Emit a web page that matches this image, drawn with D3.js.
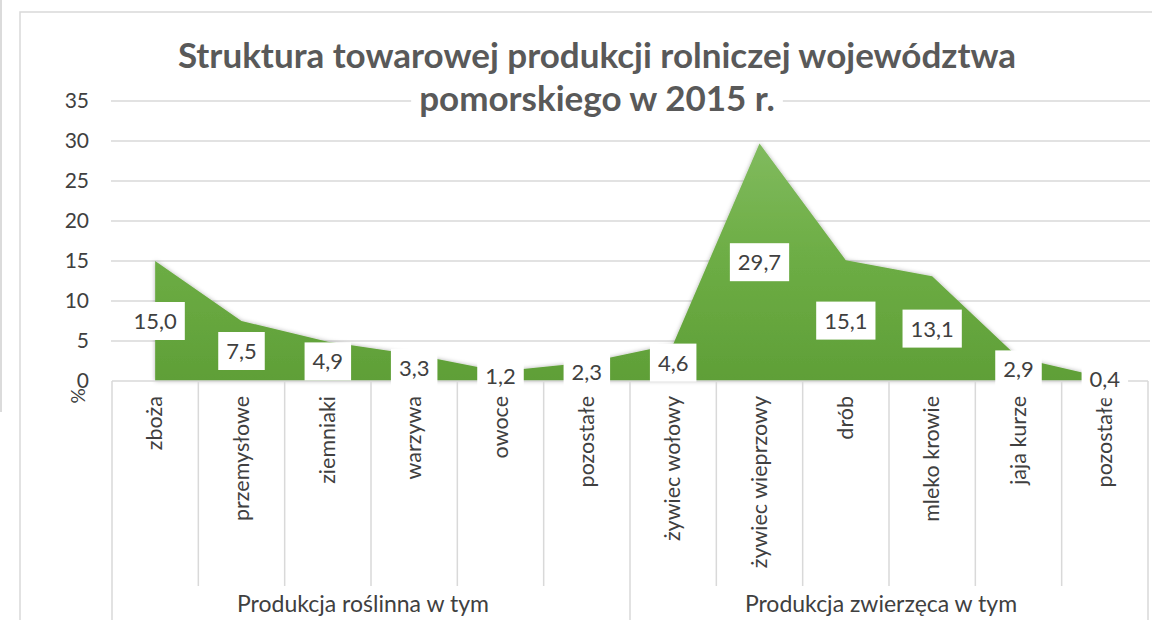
<!DOCTYPE html>
<html>
<head>
<meta charset="utf-8">
<script src="https://cdn.jsdelivr.net/npm/d3@7"></script>
<style>
  body { margin: 0; background: #fff; }
  text { font-family: Lato, "Open Sans", sans-serif; }
</style>
</head>
<body>
<div id="chart"></div>
<script>
// data
const titleLines = ["Struktura towarowej produkcji rolniczej województwa", "pomorskiego w 2015 r."];
const categories = ["zboża", "przemysłowe", "ziemniaki", "warzywa", "owoce", "pozostałe",
  "żywiec wołowy", "żywiec wieprzowy", "drób", "mleko krowie", "jaja kurze", "pozostałe"];
const groups = ["Produkcja roślinna w tym", "Produkcja zwierzęca w tym"];
const groupSizes = [6, 6];
const values = [15.0, 7.5, 4.9, 3.3, 1.2, 2.3, 4.6, 29.7, 15.1, 13.1, 2.9, 0.4];
const yTicks = [0, 5, 10, 15, 20, 25, 30, 35];
const yLabel = "%";

// set the dimensions of the page
const width = 1152, height = 620;
const plot = { left: 112, right: 1148, top: 101, bottom: 381 };

const svg = d3
  .select("#chart")
  .append("svg")
  .attr("width", width)
  .attr("height", height);

function render() {
  var gridColor = "#d9d9d9";
  var textColor = "#404040";

  var x = d3.scaleBand()
    .domain(d3.range(categories.length))
    .range([plot.left, plot.right])
    .padding(0);

  var y = d3.scaleLinear()
    .domain([0, 35])
    .range([plot.bottom, plot.top]);

  var fmt = function (v) { return d3.format(".1f")(v).replace(".", ","); };

  // thin line at the page edge and chart border
  svg.append("line")
    .attr("x1", 1).attr("x2", 1).attr("y1", 0).attr("y2", 412)
    .attr("stroke", "#cfcfcf").attr("stroke-width", 1.5);
  svg.append("rect")
    .attr("x", 20).attr("y", 12)
    .attr("width", 1160).attr("height", 640)
    .attr("fill", "#fff")
    .attr("stroke", gridColor).attr("stroke-width", 1.5);

  // defs: gradient and soft shadow for the area
  var defs = svg.append("defs");
  var grad = defs.append("linearGradient")
    .attr("id", "areaGrad")
    .attr("gradientUnits", "userSpaceOnUse")
    .attr("x1", 0).attr("x2", 0)
    .attr("y1", y(30)).attr("y2", y(0));
  grad.append("stop").attr("offset", "0%").attr("stop-color", "#81bb5f");
  grad.append("stop").attr("offset", "45%").attr("stop-color", "#6eae46");
  grad.append("stop").attr("offset", "100%").attr("stop-color", "#5f9f37");

  var shadow = defs.append("filter")
    .attr("id", "shadow")
    .attr("x", "-5%").attr("y", "-5%")
    .attr("width", "110%").attr("height", "110%");
  shadow.append("feDropShadow")
    .attr("dx", 0).attr("dy", 0)
    .attr("stdDeviation", 2)
    .attr("flood-color", "#000")
    .attr("flood-opacity", 0.3);

  // horizontal gridlines
  svg.append("g")
    .selectAll("line")
    .data(yTicks.filter(function (t) { return t > 0; }))
    .enter()
    .append("line")
    .attr("x1", plot.left - 1)
    .attr("x2", plot.right + 2)
    .attr("y1", function (d) { return y(d); })
    .attr("y2", function (d) { return y(d); })
    .attr("stroke", gridColor)
    .attr("stroke-width", 1.5);

  // title, on a white box so the top gridline stops at it
  var title = svg.append("g")
    .selectAll("g")
    .data(titleLines)
    .enter()
    .append("g");
  title.append("rect").attr("fill", "#fff");
  title.append("text")
    .attr("x", 597)
    .attr("y", function (d, i) { return 68 + i * 43; })
    .attr("text-anchor", "middle")
    .attr("fill", "#595959")
    .style("font-size", "35px")
    .style("font-weight", "bold")
    .text(function (d) { return d; });
  title.each(function () {
    var g = d3.select(this);
    var b = g.select("text").node().getBBox();
    g.select("rect")
      .attr("x", b.x - 8).attr("y", b.y)
      .attr("width", b.width + 16).attr("height", b.height);
  });

  // y axis tick labels
  var yAxis = svg.append("g")
    .attr("transform", `translate(${plot.left - 12}, 0)`)
    .call(d3.axisLeft(y).tickValues(yTicks).tickSize(0).tickPadding(11));
  yAxis.select(".domain").remove();
  yAxis.selectAll("text")
    .attr("fill", textColor)
    .style("font-size", "21px")
    .style("font-family", "Lato, sans-serif");

  svg.append("text")
    .attr("transform", "translate(85, 396) rotate(-90)")
    .attr("text-anchor", "middle")
    .attr("fill", textColor)
    .style("font-size", "19px")
    .text(yLabel);

  // the area
  var area = d3.area()
    .x(function (d, i) { return x(i) + x.bandwidth() / 2; })
    .y0(y(0))
    .y1(function (d) { return y(d); });

  svg.append("path")
    .datum(values)
    .attr("d", area)
    .attr("fill", "url(#areaGrad)")
    .attr("filter", "url(#shadow)");

  // category axis drawn as a table
  var axis = svg.append("g").attr("stroke", gridColor).attr("stroke-width", 1.5);
  axis.append("line")
    .attr("x1", plot.left).attr("x2", plot.right)
    .attr("y1", y(0)).attr("y2", y(0));

  var groupEdges = [0];
  groupSizes.forEach(function (s, i) { groupEdges.push(groupEdges[i] + s); });

  d3.range(categories.length + 1).forEach(function (i) {
    var xx = i < categories.length ? x(i) : plot.right;
    var isGroupEdge = groupEdges.indexOf(i) > -1;
    axis.append("line")
      .attr("x1", xx).attr("x2", xx)
      .attr("y1", y(0))
      .attr("y2", isGroupEdge ? height : 586);
  });

  // category labels
  svg.append("g")
    .selectAll("text")
    .data(categories)
    .enter()
    .append("text")
    .attr("transform", function (d, i) {
      return `translate(${x(i) + x.bandwidth() / 2 + 7}, 396) rotate(-90)`;
    })
    .attr("text-anchor", "end")
    .attr("fill", textColor)
    .style("font-size", "21.5px")
    .text(function (d) { return d; });

  // group labels
  svg.append("g")
    .selectAll("text")
    .data(groups)
    .enter()
    .append("text")
    .attr("x", function (d, i) {
      var s = groupEdges[i], e = groupEdges[i + 1];
      var x0 = x(s), x1 = e < categories.length ? x(e) : plot.right;
      return (x0 + x1) / 2 - 8;
    })
    .attr("y", 612)
    .attr("text-anchor", "middle")
    .attr("fill", textColor)
    .style("font-size", "23px")
    .text(function (d) { return d; });

  // data labels with white boxes, placed at half the value
  var labels = svg.append("g")
    .selectAll("g")
    .data(values)
    .enter()
    .append("g")
    .attr("transform", function (d, i) {
      return `translate(${x(i) + x.bandwidth() / 2}, ${y(d / 2)})`;
    });

  labels.append("rect").attr("fill", "#fff");
  labels.append("text")
    .attr("text-anchor", "middle")
    .attr("dy", "0.36em")
    .attr("fill", textColor)
    .style("font-size", "22px")
    .text(function (d) { return fmt(d); });

  labels.each(function () {
    var g = d3.select(this);
    var w = g.select("text").node().getComputedTextLength();
    g.select("rect")
      .attr("x", -w / 2 - 8)
      .attr("y", -19)
      .attr("width", w + 16)
      .attr("height", 38);
  });
}

render();
</script>
</body>
</html>
